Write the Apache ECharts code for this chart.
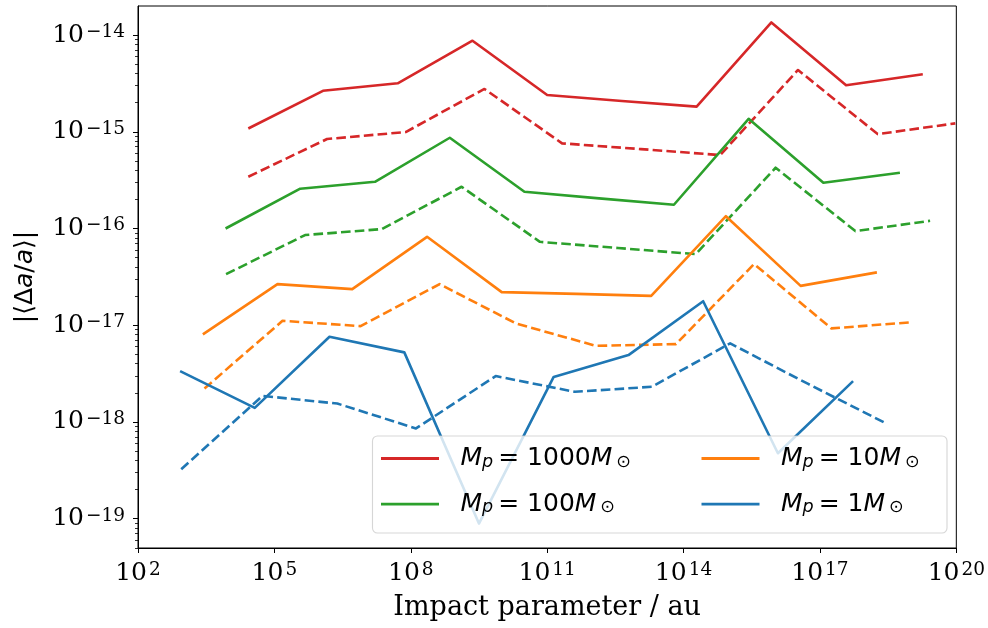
<!DOCTYPE html>
<html><head><meta charset="utf-8">
<script src="https://cdn.jsdelivr.net/npm/echarts@6/dist/echarts.min.js"></script>
<style>html,body{margin:0;padding:0;background:#fff}#c{width:988px;height:628px}</style>
</head><body><div id="c"></div>
<script>
// ---- data (impact parameter in au, |<Δa/a>|) ----
const masses = ['1000', '100', '10', '1'];
const colors = ['#d62728', '#2ca02c', '#ff7f0e', '#1f77b4'];

const impactSolid1000 = [2.67e4, 1.17e6, 5.16e7, 2.28e9, 1.00e11, 4.41e12, 1.94e14, 8.55e15, 3.76e17, 1.83e19];
const delta1000Solid  = [1.08e-15, 2.65e-15, 3.17e-15, 8.73e-15, 2.40e-15, 2.08e-15, 1.82e-15, 1.35e-14, 3.02e-15, 3.93e-15];
const impactDashed1000 = [2.67e4, 1.44e6, 7.74e7, 4.17e9, 2.13e11, 1.15e13, 6.41e14, 3.29e16, 1.86e18, 9.5e19];
const delta1000Dashed  = [3.43e-16, 8.41e-16, 9.93e-16, 2.77e-15, 7.59e-16, 6.62e-16, 5.74e-16, 4.35e-15, 9.46e-16, 1.22e-15];

const impactSolid100 = [8.44e3, 3.70e5, 1.63e7, 7.21e8, 3.16e10, 1.39e12, 6.14e13, 2.70e15, 1.19e17, 5.74e18];
const delta100Solid  = [1.00e-16, 2.58e-16, 3.04e-16, 8.67e-16, 2.40e-16, 2.05e-16, 1.76e-16, 1.36e-15, 2.97e-16, 3.77e-16];
const impactDashed100 = [8.65e3, 4.73e5, 2.31e7, 1.31e9, 6.93e10, 3.61e12, 1.85e14, 1.06e16, 6.01e17, 2.65e19];
const delta100Dashed  = [3.37e-17, 8.55e-17, 9.86e-17, 2.70e-16, 7.28e-17, 6.28e-17, 5.43e-17, 4.25e-16, 9.40e-17, 1.20e-16];

const impactSolid10 = [2.67e3, 1.17e5, 5.16e6, 2.28e8, 1.00e10, 4.41e11, 1.94e13, 8.55e14, 3.76e16, 1.79e18];
const delta10Solid  = [8.04e-18, 2.66e-17, 2.36e-17, 8.20e-17, 2.20e-17, 2.11e-17, 2.01e-17, 1.34e-16, 2.55e-17, 3.52e-17];
const impactDashed10 = [2.90e3, 1.51e5, 7.87e6, 4.31e8, 2.09e10, 1.19e12, 6.82e13, 3.56e15, 1.79e17, 9.35e18];
const delta10Dashed  = [2.22e-18, 1.11e-17, 9.79e-18, 2.66e-17, 1.04e-17, 6.12e-18, 6.38e-18, 4.29e-17, 9.27e-18, 1.07e-17];

const impactSolid1 = [8.44e2, 3.70e4, 1.63e6, 7.21e7, 3.16e9, 1.39e11, 6.14e12, 2.70e14, 1.19e16, 5.36e17];
const delta1Solid  = [3.35e-18, 1.40e-18, 7.59e-18, 5.24e-18, 8.91e-20, 2.92e-18, 4.91e-18, 1.77e-17, 4.75e-19, 2.64e-18];
const impactDashed1 = [8.93e2, 5.48e4, 2.42e6, 1.30e8, 7.38e9, 4.06e11, 2.00e13, 1.06e15, 5.52e16, 2.87e18];
const delta1Dashed  = [3.25e-19, 1.86e-18, 1.55e-18, 8.57e-19, 2.98e-18, 2.05e-18, 2.31e-18, 6.49e-18, 2.47e-18, 9.64e-19];

// tick exponents (decades)
const xTickExponents = [2, 5, 8, 11, 14, 17, 20];
const yTickExponents = [-19, -18, -17, -16, -15, -14];
const yMinExp = -19.303, yMaxExp = -13.70;

// ---- build ----
const groups = [
  {mass: masses[0], color: colors[0], sx: impactSolid1000, sy: delta1000Solid, dx: impactDashed1000, dy: delta1000Dashed},
  {mass: masses[1], color: colors[1], sx: impactSolid100,  sy: delta100Solid,  dx: impactDashed100,  dy: delta100Dashed},
  {mass: masses[2], color: colors[2], sx: impactSolid10,   sy: delta10Solid,   dx: impactDashed10,   dy: delta10Dashed},
  {mass: masses[3], color: colors[3], sx: impactSolid1,    sy: delta1Solid,    dx: impactDashed1,    dy: delta1Dashed}
];
const toPairs = (xs, ys) => xs.map((x, i) => [Math.log10(x), Math.log10(ys[i])]);
const LW = 2.6;
const series = [];
groups.forEach(g => {
  series.push({
    name: 'M' + g.mass, type: 'line', data: toPairs(g.sx, g.sy), symbol: 'none',
    color: g.color, itemStyle: {color: g.color},
    lineStyle: {color: g.color, width: LW, type: 'solid', cap: 'butt', join: 'round'},
    clip: true, z: 2
  });
  series.push({
    name: 'M' + g.mass + ' dashed', type: 'line', data: toPairs(g.dx, g.dy), symbol: 'none',
    color: g.color, itemStyle: {color: g.color},
    lineStyle: {color: g.color, width: LW, type: [9.6, 4.2], cap: 'butt', join: 'round'},
    clip: true, z: 2
  });
});

const yMinorTicks = [];
for (let n = -20; n <= -14; n++) for (let k = 2; k <= 9; k++) {
  const v = n + Math.log10(k);
  if (v > yMinExp && v < yMaxExp) yMinorTicks.push(v);
}

const supText = v => (v < 0 ? '\u2212' + Math.abs(Math.round(v)) : String(Math.round(v)));
const tickRich = {
  b: {fontFamily: 'DejaVu Serif', fontSize: 25, lineHeight: 25, color: '#000'},
  s: {fontFamily: 'DejaVu Serif', fontSize: 18.5, lineHeight: 10, verticalAlign: 'top', color: '#000', padding: [0, 0, 0, 2]}
};
const tickFmt = v => '{b|10}{s|' + supText(v) + '}';

const legendRich = {
  gap: {width: 16.5},
  i: {fontFamily: 'DejaVu Sans', fontStyle: 'italic', fontSize: 25, lineHeight: 25, color: '#000'},
  n: {fontFamily: 'DejaVu Sans', fontSize: 25, lineHeight: 25, color: '#000'},
  sub: {fontFamily: 'DejaVu Sans', fontStyle: 'italic', fontSize: 17.5, lineHeight: 15, verticalAlign: 'bottom', color: '#000'},
  subu: {fontFamily: 'DejaVu Sans', fontSize: 17.5, lineHeight: 15, verticalAlign: 'bottom', color: '#000', padding: [0, 0, 0, 4]}
};
const legendFmt = name => '{gap| }{i|M}{sub|p}{n|\u2009= ' + name.slice(1) + '}{i|M}{subu|\u2299}';
const legendBase = {
  orient: 'vertical', icon: 'rect', itemWidth: 58, itemHeight: 2.8, itemGap: 20.7,
  padding: 0, z: 20, selectedMode: false, formatter: legendFmt,
  textStyle: {rich: legendRich}
};

const chart = echarts.init(document.getElementById('c'), null, {renderer: 'canvas'});
chart.setOption({
  animation: false,
  backgroundColor: '#fff',
  grid: {left: 138, right: 29, top: 6, bottom: 80, show: true, borderColor: '#000', borderWidth: 1, backgroundColor: 'transparent'},
  xAxis: {
    type: 'value', min: 2, max: 20, interval: 3,
    axisLine: {show: true, onZero: false, lineStyle: {color: '#000', width: 1}},
    axisTick: {show: true, length: 5, lineStyle: {color: '#000', width: 1}},
    splitLine: {show: false},
    axisLabel: {margin: 13, formatter: tickFmt, rich: tickRich, showMinLabel: true, showMaxLabel: true, hideOverlap: false},
    name: 'Impact parameter / au', nameLocation: 'middle', nameGap: 46,
    nameTextStyle: {fontFamily: 'DejaVu Serif', fontSize: 27, color: '#000'}
  },
  yAxis: [{
    type: 'value', min: yMinExp, max: yMaxExp,
    axisLine: {show: true, onZero: false, lineStyle: {color: '#000', width: 1}},
    axisTick: {show: true, length: 5, customValues: yTickExponents, lineStyle: {color: '#000', width: 1}},
    splitLine: {show: false},
    axisLabel: {margin: 13, customValues: yTickExponents, formatter: tickFmt, rich: tickRich, hideOverlap: false},
    name: '{n|\u007C\u27E8\u0394}{i|a}{n|/}{i|a}{n|\u27E9\u007C}', nameLocation: 'middle', nameGap: 100, nameRotate: 90,
    nameTextStyle: {rich: {
      n: {fontFamily: 'DejaVu Sans', fontSize: 25, color: '#000'},
      i: {fontFamily: 'DejaVu Sans', fontStyle: 'italic', fontSize: 25, color: '#000'}
    }}
  }, {
    type: 'value', min: yMinExp, max: yMaxExp, position: 'left', offset: 0,
    axisLine: {show: false},
    axisTick: {show: true, length: 3, customValues: yMinorTicks, lineStyle: {color: '#000', width: 0.8}},
    axisLabel: {show: false},
    splitLine: {show: false}
  }],
  legend: [
    Object.assign({}, legendBase, {data: ['M1000', 'M100'], left: 381, top: 446}),
    Object.assign({}, legendBase, {data: ['M10', 'M1'], left: 701.5, top: 446})
  ],
  graphic: [{
    type: 'rect', silent: true, z: 10,
    shape: {x: 372.5, y: 436, width: 574.5, height: 97, r: 5},
    style: {fill: 'rgba(255,255,255,0.8)', stroke: 'rgba(204,204,204,0.8)', lineWidth: 1.1}
  }],
  series: series
});
</script></body></html>
